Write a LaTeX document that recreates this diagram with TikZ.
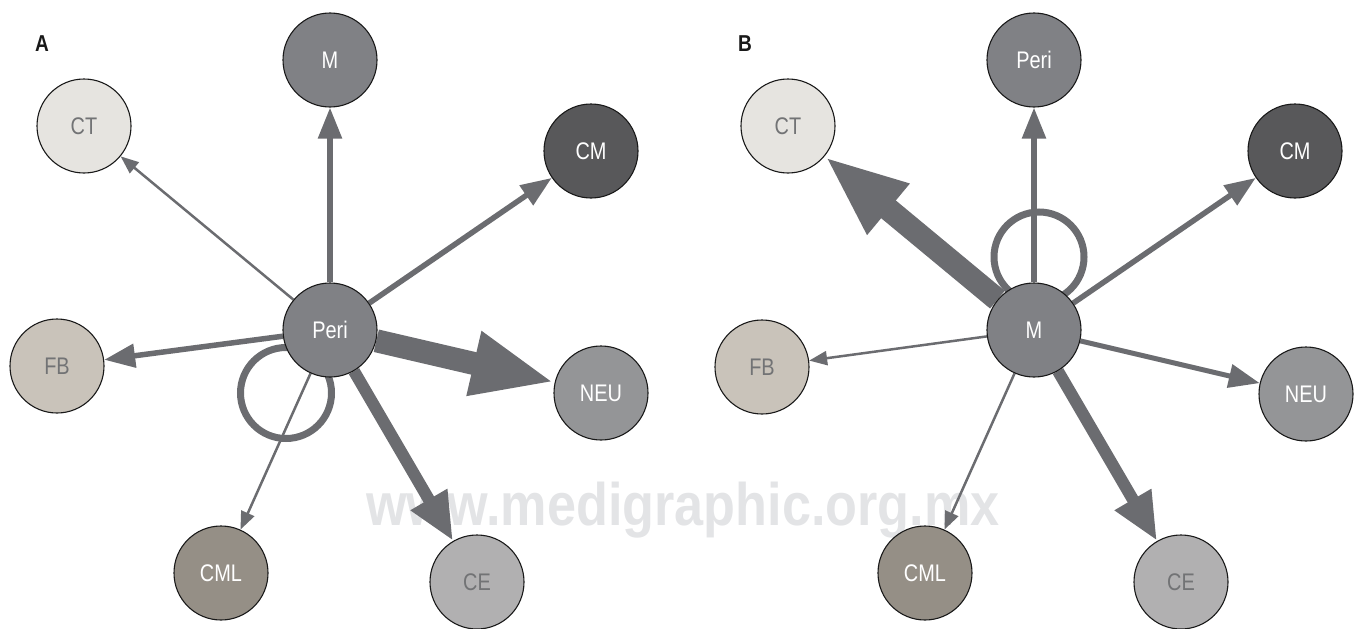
\documentclass[tikz,border=0pt]{standalone}
\usepackage{fontspec}
\setmainfont{Liberation Sans}[FakeStretch=0.83]
\newfontfamily\markfont{Liberation Sans}[FakeStretch=0.87]
\usepackage{tikz}
\usetikzlibrary{arrows.meta, positioning}
\pgfdeclarelayer{background}
\pgfsetlayers{background,main}

\definecolor{linkgray}{HTML}{6B6C70}
\definecolor{hubgray}{HTML}{808185}
\definecolor{ctfill}{HTML}{E6E4E0}
\definecolor{cmfill}{HTML}{58585A}
\definecolor{fbfill}{HTML}{C9C3BA}
\definecolor{neufill}{HTML}{949597}
\definecolor{cefill}{HTML}{B1B0B1}
\definecolor{cmlfill}{HTML}{958F86}
\definecolor{softtext}{HTML}{727375}
\definecolor{markgray}{HTML}{E3E4E6}

\tikzset{
  base/.style = {circle, draw=black!90, line width=1.1pt, minimum size=94pt,
                 inner sep=0pt, font=\fontsize{24}{24}\selectfont},
}

\begin{document}
\begin{tikzpicture}[x=1pt, y=-1pt,
            dark/.style    = {base, text=white},
            light/.style   = {base, text=softtext},
            panel/.style   = {font=\bfseries\fontsize{23}{23}\selectfont, text=black!90},
            link/.style    = {draw=linkgray, fill=linkgray},
            thinarrow/.style = {link, line width=2.5pt, -{Triangle[length=18pt,width=14pt]}},
            midarrow/.style  = {link, line width=5.5pt, -{Triangle[length=31pt,width=23pt]}},
            widearrow/.style = {link, line width=12pt, -{Triangle[length=48pt,width=39pt]}},
            hugearrow/.style = {link, line width=23pt, -{Triangle[length=83pt,width=60pt]}},
            selfloop/.style  = {draw=linkgray, line width=7pt},
        ]
        \useasboundingbox (0,0) rectangle (1355,629);

        % panel A
        \node[panel] (labA) at (42,44) {A};
        \node[dark, fill=hubgray]  (periA) at (330,330) {Peri};
        \node[dark, fill=hubgray]  (mA)    at (330,60)  {M};
        \node[light, fill=ctfill]  (ctA)   at (84,126)  {CT};
        \node[dark, fill=cmfill]   (cmA)   at (591,151) {CM};
        \node[light, fill=fbfill]  (fbA)   at (57,366)  {FB};
        \node[dark, fill=neufill]  (neuA)  at (601,393) {NEU};
        \node[light, fill=cefill]  (ceA)   at (477,582) {CE};
        \node[dark, fill=cmlfill]  (cmlA)  at (221,573) {CML};

        % panel B
        \node[panel] (labB) at (745,44) {B};
        \node[dark, fill=hubgray]  (mB)    at (1034,330) {M};
        \node[dark, fill=hubgray]  (periB) at (1034,60)  {Peri};
        \node[light, fill=ctfill]  (ctB)   at (788,126)  {CT};
        \node[dark, fill=cmfill]   (cmB)   at (1295,151) {CM};
        \node[light, fill=fbfill]  (fbB)   at (762,367)  {FB};
        \node[dark, fill=neufill]  (neuB)  at (1306,394) {NEU};
        \node[light, fill=cefill]  (ceB)   at (1181,582) {CE};
        \node[dark, fill=cmlfill]  (cmlB)  at (925,573)  {CML};

        \begin{pgfonlayer}{background}
        \node[font=\markfont\bfseries\fontsize{60}{60}\selectfont, text=markgray,
              anchor=base] (mark) at (683,525) {www.medigraphic.org.mx};

        \draw[selfloop] (286,393) circle[radius=45.5];
        \draw[selfloop] (1039,257) circle[radius=45];

        \draw[midarrow]  (periA) -- (mA);
        \draw[thinarrow] (periA) -- (ctA);
        \draw[midarrow]  (periA) -- (cmA);
        \draw[midarrow]  (periA) -- (fbA);
        \draw[hugearrow] (periA) -- (neuA);
        \draw[widearrow] (periA) -- (ceA);
        \draw[thinarrow] (periA) -- (cmlA);

        \draw[midarrow]  (mB) -- (periB);
        \draw[hugearrow] (mB) -- (ctB);
        \draw[midarrow]  (mB) -- (cmB);
        \draw[thinarrow] (mB) -- (fbB);
        \draw[midarrow, line width=5pt] (mB) -- (neuB);
        \draw[widearrow] (mB) -- (ceB);
        \draw[thinarrow] (mB) -- (cmlB);
        \end{pgfonlayer}

        \end{tikzpicture}
\end{document}
